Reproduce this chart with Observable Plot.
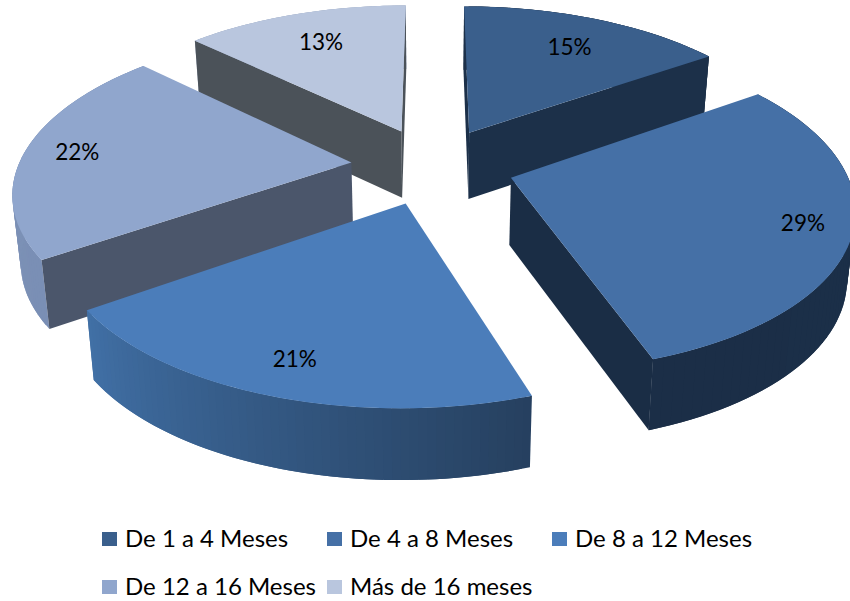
<!doctype html>
<html><head><meta charset="utf-8">
<script src="https://cdn.jsdelivr.net/npm/d3@7"></script>
<script src="https://cdn.jsdelivr.net/npm/@observablehq/plot@0.6"></script>
<style>
html,body{margin:0;padding:0;background:#fff;width:850px;overflow:hidden}
#legend{font-family:Lato,"Open Sans",sans-serif;font-size:24px;color:#000;position:relative;height:91px}
.it{position:absolute;white-space:nowrap;line-height:26px}
.sw{position:absolute;width:15px;height:14px}
</style></head><body>
<div id="chart"></div><div id="legend"></div>
<script>
const categories=["De 1 a 4 Meses","De 4 a 8 Meses","De 8 a 12 Meses","De 12 a 16 Meses","Más de 16 meses"];
const values=[15.4,29.45,20.55,21.7,12.9];
const topColors=["#3a5f8c","#4570a6","#4b7dba","#90a6cd","#b9c6de"];
const wallColors=["#1c3049","#1a2d45","#1f3550","#4b566b","#4b5259"];
const rimStart=["#1c3049","#1b2e47","#4170a6","#8094b8","#a4b1c8"];
const rimEnd=["#1c3049","#1c3049","#26405f","#7a8fb5","#a4b1c8"];
const labelReach=[.73,.86,.84,.84,.73];
const labelTurn=[.025,0,0,0,0];
const drawOrder=[4,0,3,1,2];
const W=850,H=510;
const cx=432,cy=165,A=333,B=157,k=0.165,E=0.245,depth=67;
const total=d3.sum(values);
const project=(X,Y,z)=>{const w=1/(1+k*Y);return {x:cx+A*X*w*(1-0.02*z),y:cy-B*Y*w+depth*z*Math.pow(w,.3)};};
let acc=0;
const slices=values.map((v,i)=>{const a0=acc/total*2*Math.PI;acc+=v;const a1=acc/total*2*Math.PI;const m=(a0+a1)/2;
 return {i,a0,a1,m,ox:E*Math.sin(m),oy:E*Math.cos(m)};});
const polys=[];let pid=0;
function poly(pts,color){const id=pid++;pts.forEach(p=>polys.push({id,x:p.x,y:p.y,color}));}
const rimPt=(s,t,z)=>project(s.ox+Math.sin(t),s.oy+Math.cos(t),z);
function wallVisible(ap,rim,mid){const dx=rim.x-ap.x,dy=rim.y-ap.y;const inner=dx*(mid.y-ap.y)-dy*(mid.x-ap.x);return inner*dx<0;}
for(const n of drawOrder){const s=slices[n];const ap0=project(s.ox,s.oy,0),ap1=project(s.ox,s.oy,1);
 const mid=rimPt(s,s.m,0);
 const N=60;const ip=d3.interpolateRgb(rimStart[n],rimEnd[n]);
 for(let j=0;j<N;j++){const t0=s.a0+(s.a1-s.a0)*j/N,t1=s.a0+(s.a1-s.a0)*Math.min(j+2,N)/N;
  poly([rimPt(s,t0,0),rimPt(s,t1,0),rimPt(s,t1,1),rimPt(s,t0,1)],ip(1-(j+.5)/N));}
 for(const t of [s.a0,s.a1]){const r0=rimPt(s,t,0),r1=rimPt(s,t,1);
  if(wallVisible(ap0,r0,mid))poly([ap0,r0,r1,ap1],wallColors[n]);}
 const top=[ap0];for(let j=0;j<=80;j++)top.push(rimPt(s,s.a0+(s.a1-s.a0)*j/80,0));
 poly(top,topColors[n]);
}
const labels=slices.map(s=>{const r=labelReach[s.i],t=s.m+labelTurn[s.i];const p=project(s.ox+r*Math.sin(t),s.oy+r*Math.cos(t),0);return {x:p.x,y:p.y,t:Math.round(values[s.i])+"%"};});
const plot=Plot.plot({width:W,height:H,margin:0,
 x:{domain:[0,W],range:[0,W],axis:null},y:{domain:[0,H],range:[0,H],axis:null},color:{type:"identity"},
 marks:[
  Plot.line(polys,{x:"x",y:"y",z:"id",fill:"color",stroke:"none",curve:"linear-closed"}),
  Plot.text(labels,{x:"x",y:"y",text:"t",fontSize:22.5,fontFamily:"Lato,sans-serif",fill:"#000"})
 ]});
plot.style.display="block";
document.getElementById("chart").append(plot);
const legendPos=[[102,22],[327,22],[552,22],[102,70],[327,70]];
const lg=document.getElementById("legend");
categories.forEach((c,i)=>{const [x,y]=legendPos[i];
 const sw=document.createElement("div");sw.className="sw";sw.style.left=x+"px";sw.style.top=y+"px";sw.style.background=topColors[i];lg.append(sw);
 const t=document.createElement("div");t.className="it";t.style.left=(x+23)+"px";t.style.top=(y-7)+"px";t.textContent=c;lg.append(t);});
</script></body></html>
